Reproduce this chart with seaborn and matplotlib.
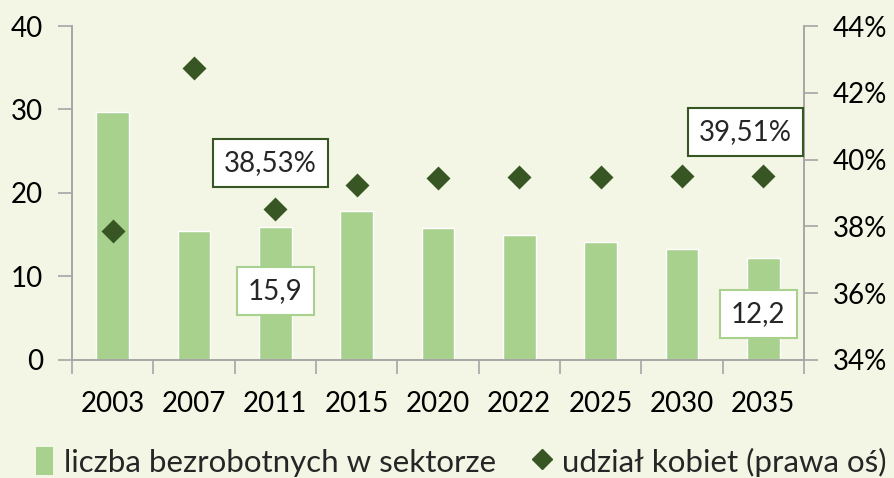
import numpy as np
import pandas as pd
import matplotlib
matplotlib.use("Agg")
import matplotlib.pyplot as plt
from matplotlib.lines import Line2D
from matplotlib.patches import Patch
import seaborn as sns

years = ["2003", "2007", "2011", "2015", "2020", "2022", "2025", "2030", "2035"]
unemployed = [29.7, 15.4, 15.9, 17.8, 15.8, 15.0, 14.1, 13.3, 12.2]
women_share = [37.86, 42.74, 38.53, 39.25, 39.44, 39.47, 39.49, 39.51, 39.51]
left_ticks = [0, 10, 20, 30, 40]
right_ticks = [34, 36, 38, 40, 42, 44]

bar_color = "#A9D18E"
dot_color = "#375623"
bg = "#F3F6E4"
spine_color = "#A6A6A6"

sns.set_style("white")
plt.rcParams["font.family"] = ["Lato", "DejaVu Sans"]

df = pd.DataFrame({"year": years, "unemployed": unemployed, "share": women_share})

fig = plt.figure(figsize=(8.95, 4.78), dpi=100, facecolor=bg)
ax = fig.add_axes([0.0804, 0.2469, 0.8179, 0.6987])
ax.set_facecolor(bg)

sns.barplot(data=df, x="year", y="unemployed", color=bar_color, width=0.4,
            saturation=1, ax=ax)
ax.set_ylim(0, 40)
ax.set_xlim(-0.5, len(years) - 0.5)
ax.set_yticks(left_ticks)
ax.set_xlabel("")
ax.set_ylabel("")

ax2 = ax.twinx()
sns.pointplot(data=df, x="year", y="share", linestyle="none", markers="D",
              color=dot_color, markersize=10, ax=ax2)
ax2.set_ylim(34, 44)
ax2.set_yticks(right_ticks)
ax2.set_yticklabels([f"{t}%" for t in right_ticks])
ax2.set_ylabel("")
ax2.set_xlim(-0.5, len(years) - 0.5)

for a in (ax, ax2):
    for s in a.spines.values():
        s.set_color(spine_color)
        s.set_linewidth(1.2)
    a.spines["top"].set_visible(False)

ax.tick_params(axis="y", length=10, width=1.2, color=spine_color, pad=11,
               labelsize=20, labelcolor="black", left=True)
ax2.tick_params(axis="y", length=10, width=1.2, color=spine_color, pad=11,
                labelsize=20, labelcolor="black", right=True)
ax.set_xticks(np.arange(len(years)))
ax.set_xticklabels(years)
ax.tick_params(axis="x", length=0, pad=22, labelsize=20, labelcolor="black")
ax.set_xticks(np.arange(len(years) + 1) - 0.5, minor=True)
ax.tick_params(axis="x", which="minor", length=10, width=1.2, color=spine_color,
               bottom=True)

# data labels
def fmt(v, pct=False):
    s = f"{v:.2f}%" if pct else f"{v:.1f}"
    return s.replace(".", ",")

box_dark = dict(boxstyle="square,pad=0.4", fc="white", ec=dot_color, lw=1.5)
box_light = dict(boxstyle="square,pad=0.4", fc="white", ec=bar_color, lw=1.5)
ax2.annotate(fmt(women_share[2], True), (2, women_share[2]), xytext=(-5, 46),
             textcoords="offset pixels", ha="center", va="center",
             fontsize=20, bbox=box_dark)
ax2.annotate(fmt(women_share[8], True), (8, women_share[8]), xytext=(-18, 44),
             textcoords="offset pixels", ha="center", va="center",
             fontsize=20, bbox=box_dark)
ax.annotate(fmt(unemployed[2]), (2, unemployed[2]), xytext=(0, -64),
            textcoords="offset pixels", ha="center", va="center",
            fontsize=20, bbox=box_light)
ax.annotate(fmt(unemployed[8]), (8, unemployed[8]), xytext=(-5, -56),
            textcoords="offset pixels", ha="center", va="center",
            fontsize=20, bbox=box_light)

handles = [Patch(facecolor=bar_color, edgecolor="none"),
           Line2D([], [], marker="D", linestyle="none", color=dot_color, markersize=10)]
labels = ["liczba bezrobotnych w sektorze", "udział kobiet (prawa oś)"]
fig.legend(handles, labels, loc="center", bbox_to_anchor=(0.515, 0.034), ncol=2,
           frameon=False, fontsize=22.5, handlelength=0.55, handleheight=1.0,
           handletextpad=0.35, columnspacing=1.2)

fig.savefig("out.png", dpi=100, facecolor=bg)
